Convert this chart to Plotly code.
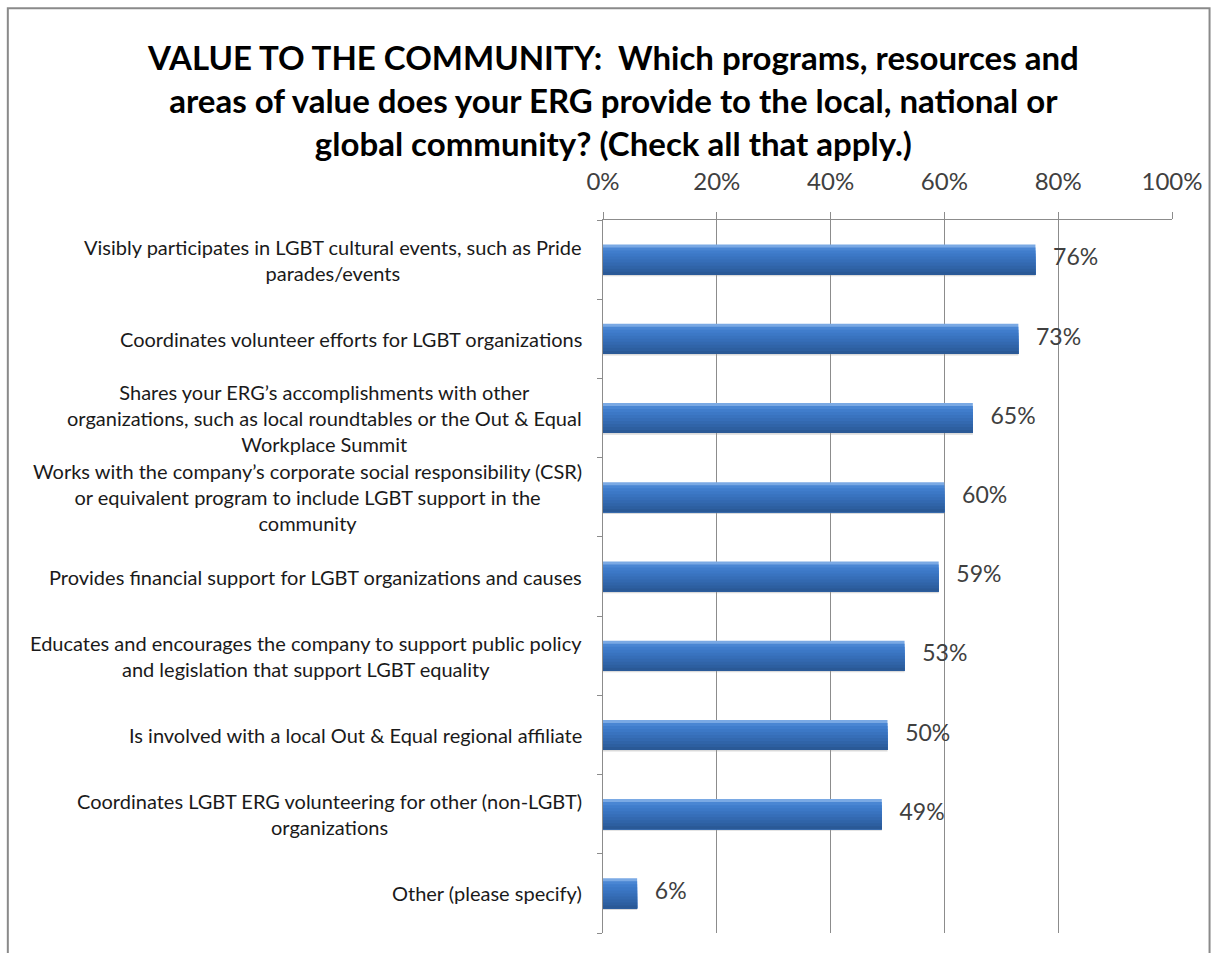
import plotly.graph_objects as go

# Survey answers, top to bottom
categories = [
    "Visibly participates in LGBT cultural events, such as Pride<br>parades/events",
    "Coordinates volunteer efforts for LGBT organizations",
    "Shares your ERG\u2019s accomplishments with other<br>organizations, such as local roundtables or the Out &amp; Equal<br>Workplace Summit",
    "Works with the company\u2019s corporate social responsibility (CSR)<br>or equivalent program to include LGBT support in the<br>community",
    "Provides financial support for LGBT organizations and causes",
    "Educates and encourages the company to support public policy<br>and legislation that support LGBT equality",
    "Is involved with a local Out &amp; Equal regional affiliate",
    "Coordinates LGBT ERG volunteering for other (non-LGBT)<br>organizations",
    "Other (please specify)",
]
values = [0.76, 0.73, 0.65, 0.60, 0.59, 0.53, 0.50, 0.49, 0.06]
value_labels = ["76%", "73%", "65%", "60%", "59%", "53%", "50%", "49%", "6%"]
x_ticks = [0, 0.2, 0.4, 0.6, 0.8, 1.0]
x_tick_labels = ["0%", "20%", "40%", "60%", "80%", "100%"]

title_text = ("<b>VALUE TO THE COMMUNITY:  Which programs, resources and<br>"
              "areas of value does your ERG provide to the local, national or<br>"
              "global community? (Check all that apply.)</b>")

FONT = "Lato"
ypos = list(range(len(categories)))

fig = go.Figure()

# soft drop shadow beneath each bar
fig.add_trace(go.Bar(
    y=ypos, x=values, orientation="h", width=0.05, offset=0.16,
    marker=dict(color="rgba(150,150,150,0.35)", line=dict(width=0)),
    hoverinfo="skip", showlegend=False,
))

# vertical gradient on the bars: overlapping bands, each one running from
# its own top edge down to the bar bottom so no seams show between them
slice_colors = ["#7aa9e4", "#4a86d3", "#407dcc", "#3c78c6", "#3973bf",
                "#366eb8", "#3369b0", "#3064a8", "#2d5fa0", "#2a5996"]
bar_w = 0.38
n = len(slice_colors)
step = bar_w / n
for i, c in enumerate(slice_colors):
    fig.add_trace(go.Bar(
        y=ypos, x=values, orientation="h",
        width=bar_w - i * step, offset=-bar_w / 2 + i * step,
        marker=dict(color=c, line=dict(width=0)),
        hoverinfo="skip", showlegend=False,
    ))

# value labels next to the bar ends
fig.add_trace(go.Scatter(
    y=ypos, x=values, mode="text", text=["   " + t for t in value_labels],
    textposition="middle right",
    textfont=dict(family=FONT, size=23, color="#404040"),
    hoverinfo="skip", showlegend=False, cliponaxis=False,
))

# category labels: right-anchored blocks with centred lines
for yi, cat in zip(ypos, categories):
    fig.add_annotation(
        x=0, xref="paper", y=yi, yref="y", text=cat,
        xanchor="right", yanchor="middle", align="center", xshift=-19,
        showarrow=False, font=dict(family=FONT, size=20, color="#1a1a1a"),
    )

# chart title
fig.add_annotation(
    x=0.018, xref="paper", y=1.26, yref="paper", text=title_text,
    xanchor="center", yanchor="top", align="center", showarrow=False,
    font=dict(family=FONT, size=33, color="#000000"),
)

# outer chart border
fig.add_shape(type="rect", xref="paper", yref="paper",
              x0=-1.046, x1=1.066, y0=-0.04, y1=1.297,
              line=dict(color="#8a8a8a", width=2), layer="below")

fig.update_layout(
    width=1215, height=953,
    margin=dict(l=603, r=41, t=220, b=20),
    paper_bgcolor="white", plot_bgcolor="white",
    barmode="overlay",
    xaxis=dict(
        side="top", range=[0, 1], tickvals=x_ticks, ticktext=x_tick_labels,
        showgrid=True, gridcolor="#8c8c8c", gridwidth=1,
        showline=True, linecolor="#8c8c8c", linewidth=1,
        ticks="outside", ticklen=7, tickcolor="#8c8c8c",
        tickfont=dict(family=FONT, size=24, color="#404040"),
        ticklabelstandoff=12, zeroline=False, fixedrange=True,
    ),
    yaxis=dict(
        range=[len(categories) - 0.5, -0.5], tickmode="array",
        tickvals=[i - 0.5 for i in range(len(categories) + 1)],
        showticklabels=False, showgrid=False,
        showline=True, linecolor="#8c8c8c", linewidth=1,
        ticks="outside", ticklen=5, tickcolor="#8c8c8c", zeroline=False,
    ),
)

fig.write_html("out.html")
